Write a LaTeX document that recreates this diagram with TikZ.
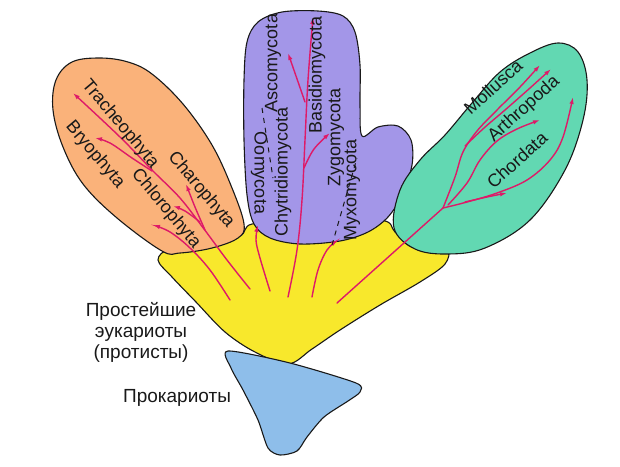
\documentclass[tikz,border=0pt]{standalone}
\usepackage{fontspec}
\setmainfont{Liberation Sans}
\usetikzlibrary{arrows.meta}
\definecolor{orangelobe}{RGB}{250,178,122}
\definecolor{purplelobe}{RGB}{163,150,232}
\definecolor{greenlobe}{RGB}{98,216,178}
\definecolor{yellowbase}{RGB}{248,232,44}
\definecolor{bluebase}{RGB}{142,190,234}
\definecolor{arrowc}{RGB}{222,26,104}
\begin{document}
\begin{tikzpicture}[x=1pt,y=-1pt,
  outline/.style={draw=black!90, line width=1.1pt, line join=round},
  branch/.style={draw=arrowc, line width=1.4pt, line cap=round, -{Latex[length=7pt,width=4.5pt]}},
  twig/.style={draw=arrowc, line width=1.4pt, line cap=round},
  lab/.style={font=\fontsize{18}{18}\selectfont, inner sep=0pt, text=black!90},
  biglab/.style={font=\fontsize{19}{21}\selectfont, inner sep=0pt, text=black!90, align=center},
  dashline/.style={draw=black!90, line width=1pt, dash pattern=on 5pt off 5pt}]
\useasboundingbox (0,0) rectangle (620,466);

% yellow protists
\draw[outline, fill=yellowbase] plot[smooth cycle, tension=0.55] coordinates {
  (170,249) (205,249) (240,236) (252,224) (300,222) (380,220) (395,232)
  (412,247) (446,249) (445,264) (420,282) (380,305) (340,330) (312,349)
  (288,364) (255,352) (225,332) (196,302) (172,277) (158,260)};

% orange lobe (plants)
\draw[outline, fill=orangelobe] plot[smooth cycle, tension=0.6] coordinates {
  (162,251) (117,218) (83,184) (63,147) (53,110) (56,80) (72,62) (100,58)
  (128,62) (152,74) (183,104) (212,145) (232,188) (244,224) (238,238)
  (212,248) (180,253)};

% purple lobe (fungi)
\draw[outline, fill=purplelobe] plot[smooth cycle, tension=0.55] coordinates {
  (254,224) (247,195) (244,140) (244,80) (247,42) (258,22) (282,12) (318,11)
  (343,16) (355,32) (360,65) (360,105) (362,136) (378,127) (398,126)
  (411,140) (412,165) (402,195) (388,217) (368,232) (340,241) (300,244)
  (270,238)};

% green lobe (animals)
\draw[outline, fill=greenlobe] plot[smooth cycle, tension=0.6] coordinates {
  (394,228) (400,190) (420,160) (445,135) (472,103) (500,72) (530,53)
  (558,43) (578,52) (587,80) (583,120) (565,170) (530,220) (485,248)
  (447,254) (415,249)};

% blue prokaryotes
\draw[outline, fill=bluebase] plot[smooth cycle, tension=0.45] coordinates {
  (228,351) (290,363) (356,383) (360,392) (348,401) (324,417) (307,437)
  (297,451) (280,455) (268,448) (258,420) (243,390) (231,368)};

% ---- plant branches
\draw[branch] plot[smooth, tension=0.6] coordinates {(250,289) (227,260) (204,229) (180,198) (153,171) (120,137) (73,93)};
\draw[branch] plot[smooth, tension=0.6] coordinates {(152,171) (132,158) (110,143) (95,138)};
\draw[branch] plot[smooth, tension=0.6] coordinates {(205,230) (195,207) (186,184)};
\draw[branch] plot[smooth, tension=0.6] coordinates {(200,222) (185,211) (173,206)};
\draw[branch] plot[smooth, tension=0.6] coordinates {(230,300) (210,270) (190,248) (170,232) (153,225)};

% ---- fungal branches
\draw[branch] plot[smooth, tension=0.6] coordinates {(270,291) (260,258) (256,240) (258,225)};
\draw[branch] plot[smooth, tension=0.6] coordinates {(288,297) (297,250) (302,200) (305,140) (308,80) (313,17)};
\draw[branch] plot[smooth, tension=0.6] coordinates {(305,102) (296,76) (288,53)};
\draw[branch] plot[smooth, tension=0.6] coordinates {(304,168) (314,149) (330,133)};
\draw[branch] plot[smooth, tension=0.6] coordinates {(312,297) (318,270) (327,250) (338,240)};

% ---- animal branches
\draw[twig] (337,303) -- (443,208);
\draw[branch] plot[smooth, tension=0.6] coordinates {(443,208) (455,177) (463,152) (477,131) (497,110) (520,87) (540,65)};
\draw[branch] plot[smooth, tension=0.6] coordinates {(465,146) (484,128) (505,110) (530,88) (551,69)};
\draw[branch] plot[smooth, tension=0.6] coordinates {(448,205) (467,183) (480,160) (497,141) (517,129) (540,120)};
\draw[branch] plot[smooth, tension=0.6] coordinates {(443,208) (467,202) (497,193) (527,180) (550,160) (563,137) (573,97)};
\draw[branch] plot[smooth, tension=0.6] coordinates {(465,202) (487,197) (507,193)};

% ---- dashed separators
\draw[dashline] (332,245) -- (357,158);
\draw[dashline] (262,108) -- (273,178);

% ---- labels
\node[lab, rotate=-50] (trach) at (120,124) {Tracheophyta};
\node[lab, rotate=-50] (bryo) at (95,155) {Bryophyta};
\node[lab, rotate=-50] (chloro) at (166,209) {Chlorophyta};
\node[lab, rotate=-50] (charo) at (201,190) {Charophyta};

\node[lab, rotate=-90] (oomy) at (259,173) {Oomycota};
\node[lab, rotate=90] (asco) at (273,63) {Ascomycota};
\node[lab, rotate=90] (chytr) at (283,172) {Chytridiomycota};
\node[lab, rotate=90] (basid) at (317,75) {Basidiomycota};
\node[lab, rotate=90] (zygo) at (336,137) {Zygomycota};
\node[lab, rotate=90] (myxo) at (352,190) {Myxomycota};

\node[lab, rotate=42] (moll) at (493,87) {Mollusca};
\node[lab, rotate=42] (arth) at (524,109) {Arthropoda};
\node[lab, rotate=42] (chord) at (517,160) {Chordata};

\node[biglab] (protists) at (141,332) {Простейшие\\эукариоты\\(протисты)};
\node[biglab] (prok) at (177,398) {Прокариоты};
\end{tikzpicture}
\end{document}
